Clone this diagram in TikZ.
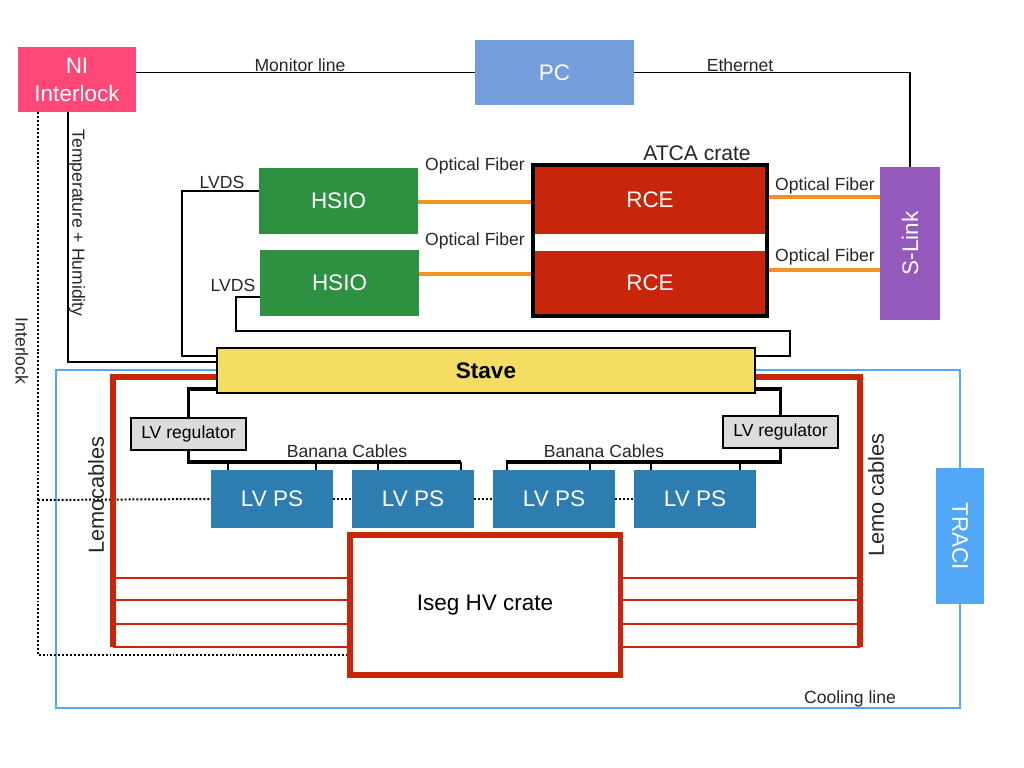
\documentclass[tikz,border=0pt]{standalone}
\usepackage{fontspec}
\setmainfont{Liberation Sans}
\usepackage{graphicx}
\usepackage{xcolor}
\usetikzlibrary{calc}

\definecolor{niPink}{RGB}{255,71,120}
\definecolor{pcBlue}{RGB}{116,157,220}
\definecolor{rceRed}{RGB}{200,37,10}
\definecolor{hsioGreen}{RGB}{46,145,65}
\definecolor{slinkPurple}{RGB}{149,88,189}
\definecolor{fiberOrange}{RGB}{243,146,30}
\definecolor{staveYellow}{RGB}{245,221,98}
\definecolor{lvpsBlue}{RGB}{46,125,177}
\definecolor{coolBlue}{RGB}{82,168,247}
\definecolor{regGray}{RGB}{220,220,222}

\tikzset{
    block/.style={inner sep=0pt, text=white, align=center, font=\fontsize{16}{20}\selectfont},
    lbl/.style={inner sep=1pt, text=black!85, font=\fontsize{12.5}{15}\selectfont},
    reg/.style={draw=black, line width=1.4pt, fill=regGray, inner sep=0pt, minimum width=2.875cm, minimum height=0.8cm, font=\fontsize{12.5}{15}\selectfont},
    lvps/.style={block, fill=lvpsBlue, minimum width=3.05cm, minimum height=1.45cm},
    wire/.style={line width=1.4pt},
    bus/.style={line width=2.4pt},
    fiber/.style={line width=2.6pt, draw=fiberOrange},
    lemo/.style={line width=3.6pt, draw=rceRed},
    lemothin/.style={line width=1.2pt, draw=rceRed},
    cool/.style={line width=1.2pt, draw=coolBlue},
    ilock/.style={line width=1.4pt, dash pattern=on 1.4pt off 1.4pt}
}

\begin{document}
\begin{tikzpicture}[x=0.025cm, y=-0.025cm]
    \useasboundingbox (0,0) rectangle (1024,768);
    % cooling line round the stave
    \draw[cool] (56,370) rectangle (960,708);
    \node[lbl] (coollbl) at (850,699) {Cooling line};

    % blocks
    \node[block, fill=niPink, minimum width=2.95cm, minimum height=1.625cm] (ni) at (77,79.5) {NI\\Interlock};
    \node[block, fill=pcBlue, minimum width=3.975cm, minimum height=1.625cm] (pc) at (554.5,72.5) {PC};
    \node[block, fill=rceRed, minimum width=5.8cm, minimum height=1.7cm] (rce1) at (650,200) {RCE};
    \node[block, fill=rceRed, minimum width=5.8cm, minimum height=1.6cm] (rce2) at (650,283) {RCE};
    \node[draw=black, line width=2.8pt, inner sep=0pt, minimum width=5.85cm, minimum height=3.775cm] (atca) at (650,240.5) {};
    \node[lbl, font=\fontsize{15}{18}\selectfont] (atcalbl) at (697,153) {ATCA crate};
    \node[block, fill=hsioGreen, minimum width=3.975cm, minimum height=1.65cm] (hsio1) at (338.5,201) {HSIO};
    \node[block, fill=hsioGreen, minimum width=3.975cm, minimum height=1.65cm] (hsio2) at (339.5,283) {HSIO};
    \node[block, fill=slinkPurple, minimum width=1.5cm, minimum height=3.825cm] (slink) at (910,243.5) {\rotatebox{90}{S-Link}};
    \node[block, draw=black, line width=1.4pt, fill=staveYellow, text=black, font=\bfseries\fontsize{16}{20}\selectfont, minimum width=13.45cm, minimum height=1.125cm] (stave) at (486,370.5) {Stave};
    \node[reg] (reg1) at (188.5,434) {LV regulator};
    \node[reg] (reg2) at (780.5,432) {LV regulator};
    \foreach \i/\x in {1/272,2/413,3/554,4/695}
        \node[lvps] (lvps\i) at (\x,499) {LV PS};
    \node[draw=rceRed, line width=3.6pt, fill=white, inner sep=0pt, minimum width=6.75cm, minimum height=3.5cm, font=\fontsize{16}{20}\selectfont] (iseg) at (485,605) {Iseg HV crate};
    \node[block, fill=coolBlue, minimum width=1.2cm, minimum height=3.4cm] (traci) at (960,536) {\rotatebox{-90}{TRACI}};

    % monitor and ethernet
    \draw[wire] (ni.east |- pc.west) -- (pc.west);
    \node[lbl] (monlbl) at (300,65) {Monitor line};
    \draw[wire] (pc.east) -- (pc.east -| slink.north) -- (slink.north);
    \node[lbl] (ethlbl) at (740,65) {Ethernet};

    % optical fibers
    \draw[fiber] (hsio1.east |- 0,202) -- (atca.west |- 0,202);
    \draw[fiber] (hsio2.east |- 0,274) -- (atca.west |- 0,274);
    \draw[fiber] (atca.east |- 0,197) -- (slink.west |- 0,197);
    \draw[fiber] (atca.east |- 0,270) -- (slink.west |- 0,270);
    \node[lbl] (of1) at (475,166) {Optical Fiber};
    \node[lbl] (of2) at (475,241) {Optical Fiber};
    \node[lbl] (of3) at (825,186) {Optical Fiber};
    \node[lbl] (of4) at (825,257) {Optical Fiber};

    % LVDS
    \draw[wire] (hsio1.west |- 0,191) -| (182,356) -- (stave.west |- 0,356);
    \node[lbl] (lvds1) at (222,182) {LVDS};
    \draw[wire] (hsio2.west |- 0,297) -| (236,331) -| (790,356) -- (stave.east |- 0,356);
    \node[lbl] (lvds2) at (233,285) {LVDS};

    % temperature + humidity
    \draw[wire] (ni.south -| 68,0) -- (68,362) -- (stave.west |- 0,362);
    \node[lbl, rotate=-90] (thlbl) at (77,223) {Temperature + Humidity};

    % interlock
    \draw[ilock] (ni.south -| 38,0) -- (38,655) -- (iseg.west |- 0,655);
    \draw[ilock] (38,500) -- (lvps1.west);
    \foreach \a/\b in {1/2,2/3,3/4}
        \draw[ilock] (lvps\a.east) -- (lvps\b.west);
    \node[lbl, rotate=-90] (illbl) at (22,351) {Interlock};

    % low voltage
    \draw[bus] (stave.west |- 0,389) -| (reg1.north);
    \draw[bus] (reg1.south) |- (461,462);
    \foreach \x in {228,316,378,461}
        \draw[wire] (\x,462) -- (lvps1.north -| \x,0);
    \draw[bus] (stave.east |- 0,389) -| (reg2.north);
    \draw[bus] (reg2.south) |- (506,462);
    \foreach \x in {507,590,651,740}
        \draw[wire] (\x,462) -- (lvps1.north -| \x,0);
    \node[lbl] (ban1) at (347,451) {Banana Cables};
    \node[lbl] (ban2) at (604,451) {Banana Cables};

    % high voltage
    \draw[lemo] (stave.west |- 0,377) -| (113,647);
    \draw[lemo] (stave.east |- 0,377) -| (860,647);
    \foreach \y in {578,600,624,647} {
        \draw[lemothin] (113,\y) -- (iseg.west |- 0,\y);
        \draw[lemothin] (iseg.east |- 0,\y) -- (860,\y);
    }
    \node[lbl, rotate=90, font=\fontsize{15.5}{18}\selectfont] (lemo1) at (96,495) {Lemocables};
    \node[lbl, rotate=90, font=\fontsize{15.5}{18}\selectfont] (lemo2) at (876,495) {Lemo cables};
\end{tikzpicture}
\end{document}
